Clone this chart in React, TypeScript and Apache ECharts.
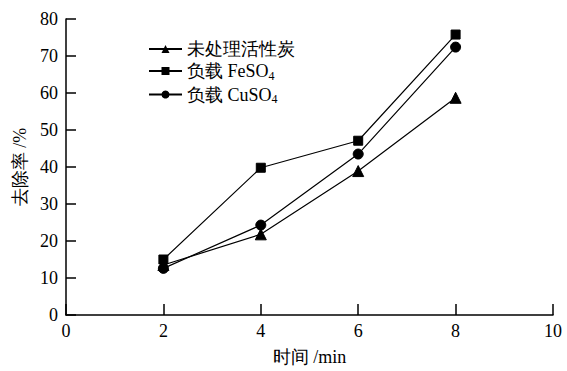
import React, { useEffect, useRef } from "react";
import * as echarts from "echarts";

const times = [2, 4, 6, 8];
const seriesNames = ["未处理活性炭", "负载 FeSO4", "负载 CuSO4"];
const untreated = [13.5, 21.8, 38.9, 58.7];
const feso4 = [15.0, 39.8, 47.1, 75.8];
const cuso4 = [12.6, 24.3, 43.5, 72.4];
const symbols = ["triangle", "rect", "circle"];
const symbolSizes = [11, 9, 10];

const FONT = "Liberation Serif";

export default function App() {
  const ref = useRef<HTMLDivElement>(null);
  useEffect(() => {
    document.body.style.margin = "0";
    const chart = echarts.init(ref.current!, undefined, { renderer: "svg" });
    const values = [untreated, feso4, cuso4];
    chart.setOption({
      animation: false,
      backgroundColor: "#ffffff",
      textStyle: { fontFamily: FONT, color: "#000" },
      grid: { left: 66, right: 14, top: 19, bottom: 55 },
      legend: {
        orient: "vertical",
        left: 143,
        top: 35,
        padding: 5,
        itemWidth: 33,
        itemHeight: 10,
        itemGap: 4,
        data: seriesNames,
        textStyle: {
          fontFamily: FONT,
          fontSize: 18,
          color: "#000",
          rich: {
            sub: { fontFamily: FONT, fontSize: 12, color: "#000", padding: [9, 0, 0, 0] },
          },
        },
        formatter: (name: string) => name.replace(/SO4$/, "SO{sub|4}"),
      },
      xAxis: {
        type: "value",
        min: 0,
        max: 10,
        interval: 2,
        name: "时间 /min",
        nameLocation: "middle",
        nameGap: 33,
        nameTextStyle: { fontFamily: FONT, fontSize: 18, color: "#000" },
        axisLine: { show: true, lineStyle: { color: "#000", width: 1.5 } },
        axisTick: { show: true, inside: true, length: 11, lineStyle: { color: "#000", width: 1.5 } },
        axisLabel: { fontFamily: FONT, fontSize: 18, color: "#000", margin: 7 },
        splitLine: { show: false },
      },
      yAxis: {
        type: "value",
        min: 0,
        max: 80,
        interval: 10,
        name: "去除率 /%",
        nameLocation: "middle",
        nameGap: 35,
        nameRotate: 90,
        nameTextStyle: { fontFamily: FONT, fontSize: 18, color: "#000" },
        axisLine: { show: true, lineStyle: { color: "#000", width: 1.5 } },
        axisTick: { show: true, inside: true, length: 10, lineStyle: { color: "#000", width: 1.5 } },
        axisLabel: { fontFamily: FONT, fontSize: 18, color: "#000", margin: 8 },
        splitLine: { show: false },
      },
      series: seriesNames.map((name, i) => ({
        name,
        type: "line",
        data: times.map((t, j) => [t, values[i][j]]),
        symbol: symbols[i],
        symbolSize: symbolSizes[i],
        showSymbol: true,
        lineStyle: { color: "#000", width: 1.2 },
        itemStyle: { color: "#000", borderColor: "#000" },
        z: 3 - i,
      })),
    });
    return () => chart.dispose();
  }, []);
  return <div ref={ref} style={{ width: 567, height: 371 }} />;
}
